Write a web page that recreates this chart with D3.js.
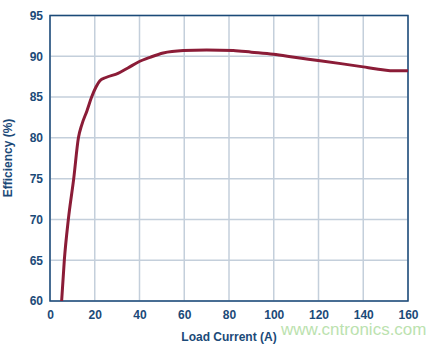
<!DOCTYPE html>
<html>
<head>
<meta charset="utf-8">
<script src="https://cdn.jsdelivr.net/npm/d3@7"></script>
<style>
  html, body { margin: 0; padding: 0; background: #fff; }
  text { font-family: "Liberation Sans", Arial, sans-serif; }
</style>
</head>
<body>
<svg id="chart" width="440" height="345"></svg>
<script>
// load current (A) vs efficiency (%)
const loadCurrent = [5.2, 6.4, 8.2, 10.6, 12.7, 14.2, 16.5, 18.6, 20.5, 22.3, 25, 30.4, 35, 39.5, 45, 50.6, 59.6, 70, 81.9, 90, 99.8, 110, 120.7, 130, 140, 146, 152, 156, 160];
const efficiency  = [60, 65, 70, 75, 80, 81.6, 83.3, 85, 86.2, 87.0, 87.4, 87.9, 88.6, 89.3, 89.9, 90.4, 90.7, 90.77, 90.7, 90.5, 90.25, 89.85, 89.46, 89.1, 88.7, 88.45, 88.24, 88.22, 88.24];
const xTicks = [0, 20, 40, 60, 80, 100, 120, 140, 160];
const yTicks = [60, 65, 70, 75, 80, 85, 90, 95];

const svg = d3.select("#chart");
const margin = { left: 50, right: 32, top: 15.5, bottom: 44 };
const width = 440 - margin.left - margin.right;
const height = 345 - margin.top - margin.bottom;

const x = d3.scaleLinear().domain([0, 160]).range([margin.left, margin.left + width]);
const y = d3.scaleLinear().domain([60, 95]).range([margin.top + height, margin.top]);

const navy = "#1b4a78";

// grid
svg.append("g")
  .selectAll("line")
  .data(xTicks)
  .join("line")
  .attr("x1", d => x(d)).attr("x2", d => x(d))
  .attr("y1", y(60)).attr("y2", y(95))
  .attr("stroke", "#c4cfdb").attr("stroke-width", 1.5);

svg.append("g")
  .selectAll("line")
  .data(yTicks)
  .join("line")
  .attr("y1", d => y(d)).attr("y2", d => y(d))
  .attr("x1", x(0)).attr("x2", x(160))
  .attr("stroke", "#c4cfdb").attr("stroke-width", 1.5);

// frame
svg.append("rect")
  .attr("x", x(0)).attr("y", y(95))
  .attr("width", x(160) - x(0)).attr("height", y(60) - y(95))
  .attr("fill", "none").attr("stroke", navy).attr("stroke-width", 1.5);

// tick labels via d3 axes
const xAxis = svg.append("g")
  .attr("transform", `translate(0,${y(60)})`)
  .call(d3.axisBottom(x).tickValues(xTicks).tickSize(0).tickPadding(9));
const yAxis = svg.append("g")
  .attr("transform", `translate(${x(0)},0)`)
  .call(d3.axisLeft(y).tickValues(yTicks).tickSize(0).tickPadding(7));

[xAxis, yAxis].forEach(a => {
  a.select(".domain").remove();
  a.selectAll("text")
    .attr("fill", navy)
    .style("font-size", "12px")
    .style("font-weight", "bold")
    .style("font-family", "'Liberation Sans', Arial, sans-serif");
});

// curve
const pts = loadCurrent.map((d, i) => [d, efficiency[i]]);
const line = d3.line()
  .x(d => x(d[0]))
  .y(d => y(d[1]))
  .curve(d3.curveMonotoneX);

svg.append("path")
  .datum(pts)
  .attr("d", line)
  .attr("fill", "none")
  .attr("stroke", "#8b1c37")
  .attr("stroke-width", 3)
  .attr("stroke-linejoin", "round");

// watermark
svg.append("text")
  .attr("x", 281).attr("y", 335)
  .attr("fill", "#9fd68e")
  .attr("opacity", 0.7)
  .style("font-size", "17px")
  .text("www.cntronics.com");

// titles
svg.append("text")
  .attr("x", (x(0) + x(160)) / 2).attr("y", 341)
  .attr("text-anchor", "middle")
  .attr("fill", navy)
  .style("font-size", "12px").style("font-weight", "bold")
  .text("Load Current (A)");

svg.append("text")
  .attr("transform", "translate(12,158) rotate(-90)")
  .attr("text-anchor", "middle")
  .attr("fill", navy)
  .style("font-size", "12px").style("font-weight", "bold")
  .text("Efficiency (%)");
</script>
</body>
</html>
